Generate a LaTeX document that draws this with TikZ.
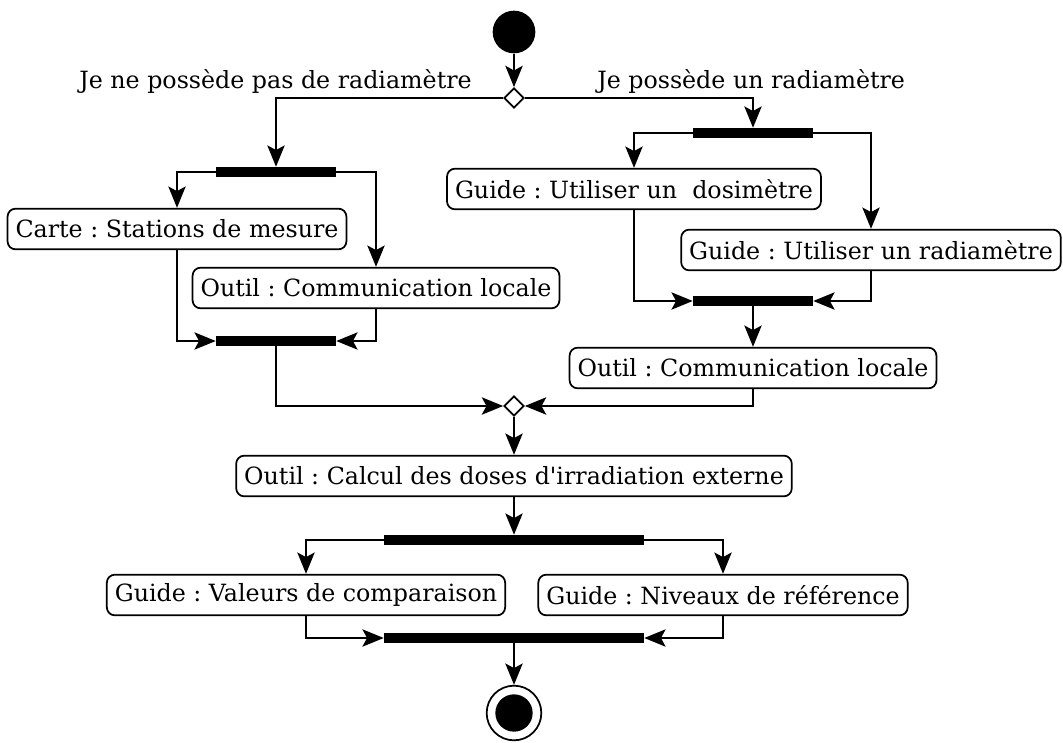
\documentclass[tikz,border=0pt]{standalone}
\usepackage{fontspec}
\setmainfont{DejaVu Serif}[Ligatures=TeXOff]
\usetikzlibrary{positioning, arrows.meta, shapes.geometric}

\begin{document}
\frenchspacing
\begin{tikzpicture}[x=0.75pt, y=-0.75pt,
		% Define styles for the nodes
		action/.style={
			rectangle, rounded corners=6pt, draw=black, fill=white,
			line width=1.3pt, align=center, minimum height=30.5pt,
			inner xsep=6pt, font=\fontsize{17.8pt}{20pt}\selectfont
		},
		syncbar/.style={
			rectangle, fill=black, draw=none, inner sep=0pt,
			minimum width=90pt, minimum height=7.5pt
		},
		widebar/.style={syncbar, minimum width=195pt},
		choice/.style={
			diamond, draw=black, fill=white, line width=1.3pt,
			inner sep=0pt, minimum size=15pt
		},
		initial/.style={circle, fill=black, inner sep=0pt, minimum size=32pt},
		final/.style={circle, draw=black, line width=1.3pt, fill=white,
			inner sep=0pt, minimum size=41pt,
			path picture={\fill[black] (path picture bounding box.center) circle (14pt);}},
		guard/.style={font=\fontsize{17.8pt}{20pt}\selectfont, inner sep=0pt},
		flow/.style={
			-{Stealth[length=16pt, width=13pt, inset=3.5pt]}, line width=1.3pt
		}
		]
		\useasboundingbox (0,0) rectangle (1063,742);

		% Start and first decision
		\node[initial] (start) at (514,32) {};
		\node[choice] (dec1) at (514,98) {};
		\node[guard, anchor=base east] (nolabel) at (472,89) {Je ne possède pas de radiamètre};
		\node[guard, anchor=base west] (yeslabel) at (597,89) {Je possède un radiamètre};

		% Left branch
		\node[syncbar] (forkL) at (276,172) {};
		\node[action] (carte) at (177,229) {Carte : Stations de mesure};
		\node[action] (outilL) at (376,288) {Outil : Communication locale};
		\node[syncbar] (joinL) at (276,341) {};

		% Right branch
		\node[syncbar] (forkR) at (753,133) {};
		\node[action] (dosi) at (634,189) {Guide : Utiliser un~ dosimètre};
		\node[action] (radia) at (871,250) {Guide : Utiliser un radiamètre};
		\node[syncbar] (joinR) at (753,301) {};
		\node[action] (outilR) at (753,368) {Outil : Communication locale};

		% Merge and bottom part
		\node[choice] (dec2) at (514,406) {};
		\node[action] (calcul) at (514,476) {Outil : Calcul des doses d'irradiation externe};
		\node[widebar] (forkB) at (514,540) {};
		\node[action] (valeurs) at (306,595) {Guide : Valeurs de comparaison};
		\node[action] (niveaux) at (723,595) {Guide : Niveaux de référence};
		\node[widebar] (joinB) at (514,638) {};
		\node[final] (stop) at (514,713) {};

		% Connections
		\draw[flow] (start) -- (dec1.north);
		\draw[flow] (dec1.west) -| (forkL.north);
		\draw[flow] (dec1.east) -| (forkR.north);

		\draw[flow] (forkL.west) -| (carte.north);
		\draw[flow] (forkL.east) -| (outilL.north);
		\draw[flow] (carte.south) |- (joinL.west);
		\draw[flow] (outilL.south) |- (joinL.east);

		\draw[flow] (forkR.west) -| (dosi.north);
		\draw[flow] (forkR.east) -| (radia.north);
		\draw[flow] (dosi.south) |- (joinR.west);
		\draw[flow] (radia.south) |- (joinR.east);
		\draw[flow] (joinR.south) -- (outilR.north);

		\draw[flow] (joinL.south) |- (dec2.west);
		\draw[flow] (outilR.south) |- (dec2.east);
		\draw[flow] (dec2.south) -- (calcul.north);
		\draw[flow] (calcul.south) -- (forkB.north);

		\draw[flow] (forkB.west) -| (valeurs.north);
		\draw[flow] (forkB.east) -| (niveaux.north);
		\draw[flow] (valeurs.south) |- (joinB.west);
		\draw[flow] (niveaux.south) |- (joinB.east);
		\draw[flow] (joinB.south) -- (stop.north);

	\end{tikzpicture}
\end{document}
